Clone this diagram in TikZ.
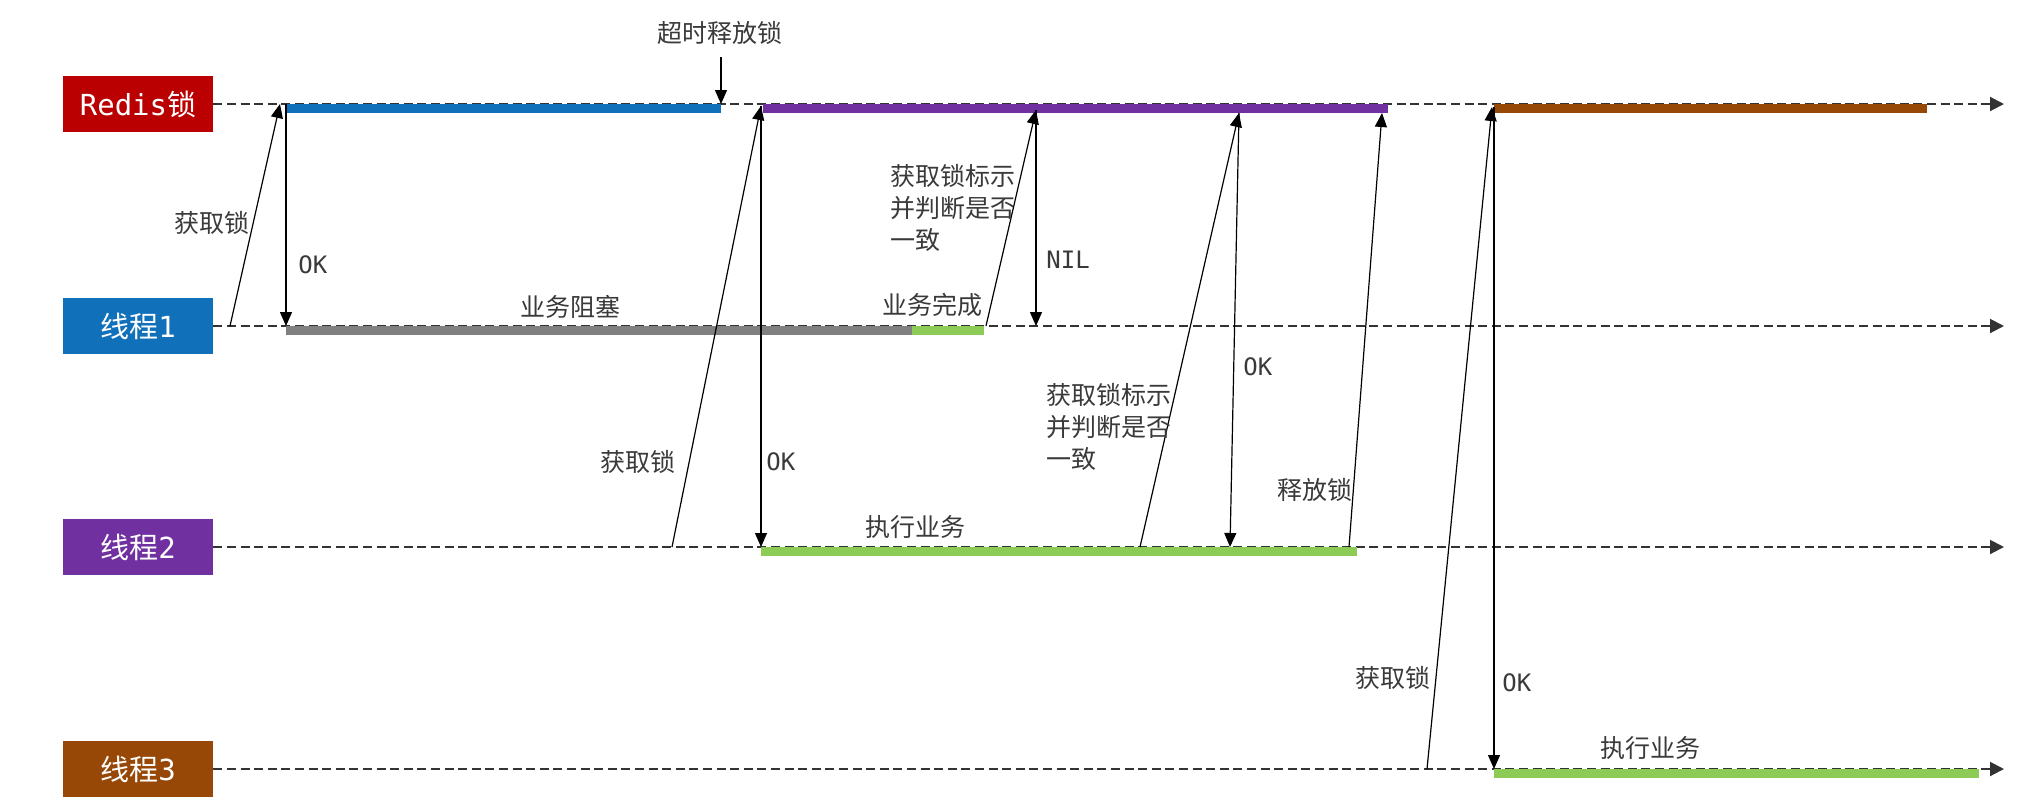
\documentclass[tikz,border=0pt]{standalone}
\usepackage{fontspec}
\setmainfont{Noto Sans CJK SC}
\setmonofont{DejaVu Sans Mono}
\usetikzlibrary{arrows.meta}
\definecolor{redisred}{HTML}{BA0000}
\definecolor{t1blue}{HTML}{1070BA}
\definecolor{t2purple}{HTML}{7030A0}
\definecolor{t3brown}{HTML}{974806}
\definecolor{okgreen}{HTML}{8CCB55}
\definecolor{blockgray}{HTML}{808080}
\definecolor{txtgray}{HTML}{3A3A3A}
\definecolor{linegray}{HTML}{333333}
\tikzset{
  actor/.style={draw=none, minimum width=75pt, minimum height=28pt, inner sep=0pt,
    text=white, font=\fontsize{14.5pt}{16pt}\selectfont},
  lifeline/.style={draw=linegray, line width=1pt, dash pattern=on 4.5pt off 2.3pt,
    -{Triangle[length=7pt,width=7pt]}},
  msg/.style={draw=black, line width=0.6pt, -{Triangle[length=7pt,width=6pt]}},
  lbl/.style={inner sep=0pt, text=txtgray, font=\fontsize{12.5pt}{16pt}\selectfont},
  monolbl/.style={inner sep=0pt, text=txtgray, font=\fontsize{12pt}{14pt}\ttfamily},
}
\begin{document}
\begin{tikzpicture}[x=0.5pt,y=-0.5pt]
\useasboundingbox (0,0) rectangle (2036,800);
\fill[white] (0,0) rectangle (2036,800);

% actors
\node[actor, fill=redisred] (redis) at (138,104) {\texttt{Redis}锁};
\node[actor, fill=t1blue]   (t1)    at (138,326) {线程\texttt{1}};
\node[actor, fill=t2purple] (t2)    at (138,547) {线程\texttt{2}};
\node[actor, fill=t3brown]  (t3)    at (138,769) {线程\texttt{3}};

% lifeline ends
\coordinate (redisend) at (2004,104);
\coordinate (t1end) at (2004,326);
\coordinate (t2end) at (2004,547);
\coordinate (t3end) at (2004,769);

\draw[lifeline] (redis.east) -- (redisend);
\draw[lifeline] (t1.east) -- (t1end);
\draw[lifeline] (t2.east) -- (t2end);
\draw[lifeline] (t3.east) -- (t3end);

% activity bars
\fill[t1blue]    (286,104) rectangle (721,113);
\fill[t2purple]  (763,104) rectangle (1388,113);
\fill[t3brown]   (1494,104) rectangle (1927,113);
\fill[blockgray] (286,326) rectangle (912,335);
\fill[okgreen]   (912,326) rectangle (984,335);
\fill[okgreen]   (761,547) rectangle (1357,556);
\fill[okgreen]   (1494,769) rectangle (1979,778);

% message end points
\coordinate (a1s) at (230,326);  \coordinate (a1e) at (280,104);
\coordinate (o1s) at (286,104);  \coordinate (o1e) at (286,326);
\coordinate (tos) at (721,57);   \coordinate (toe) at (721,104);
\coordinate (a2s) at (672,547);  \coordinate (a2e) at (761,106);
\coordinate (o2s) at (761,106);  \coordinate (o2e) at (761,547);
\coordinate (c1s) at (986,326);  \coordinate (c1e) at (1036,110);
\coordinate (n1s) at (1036,110); \coordinate (n1e) at (1036,326);
\coordinate (c2s) at (1140,547); \coordinate (c2e) at (1239,113);
\coordinate (o3s) at (1239,113); \coordinate (o3e) at (1230,547);
\coordinate (r2s) at (1349,547); \coordinate (r2e) at (1382,113);
\coordinate (a3s) at (1427,769); \coordinate (a3e) at (1492,107);
\coordinate (o4s) at (1494,107); \coordinate (o4e) at (1494,769);

\draw[msg] (a1s) -- (a1e);
\draw[msg] (o1s) -- (o1e);
\draw[msg] (tos) -- (toe);
\draw[msg] (a2s) -- (a2e);
\draw[msg] (o2s) -- (o2e);
\draw[msg] (c1s) -- (c1e);
\draw[msg] (n1s) -- (n1e);
\draw[msg] (c2s) -- (c2e);
\draw[msg] (o3s) -- (o3e);
\draw[msg] (r2s) -- (r2e);
\draw[msg] (a3s) -- (a3e);
\draw[msg] (o4s) -- (o4e);

% labels
\node[lbl] (l_timeout) at (720,33) {超时释放锁};
\node[lbl, anchor=east] (l_get1) at (250,223) {获取锁};
\node[monolbl, anchor=west] (l_ok1) at (298,265) {OK};
\node[lbl] (l_block) at (570,307) {业务阻塞};
\node[lbl] (l_done) at (932,305) {业务完成};
\node[lbl, anchor=west, align=left] (l_chk1) at (890,208) {获取锁标示\\并判断是否\\一致};
\node[monolbl, anchor=west] (l_nil) at (1046,260) {NIL};
\node[lbl, anchor=east] (l_get2) at (676,462) {获取锁};
\node[monolbl, anchor=west] (l_ok2) at (766,462) {OK};
\node[lbl] (l_exec2) at (915,527) {执行业务};
\node[lbl, anchor=west, align=left] (l_chk2) at (1046,427) {获取锁标示\\并判断是否\\一致};
\node[monolbl, anchor=west] (l_ok3) at (1243,367) {OK};
\node[lbl] (l_rel) at (1315,490) {释放锁};
\node[lbl] (l_get3) at (1393,678) {获取锁};
\node[monolbl, anchor=west] (l_ok4) at (1502,683) {OK};
\node[lbl] (l_exec3) at (1650,748) {执行业务};
\end{tikzpicture}
\end{document}
